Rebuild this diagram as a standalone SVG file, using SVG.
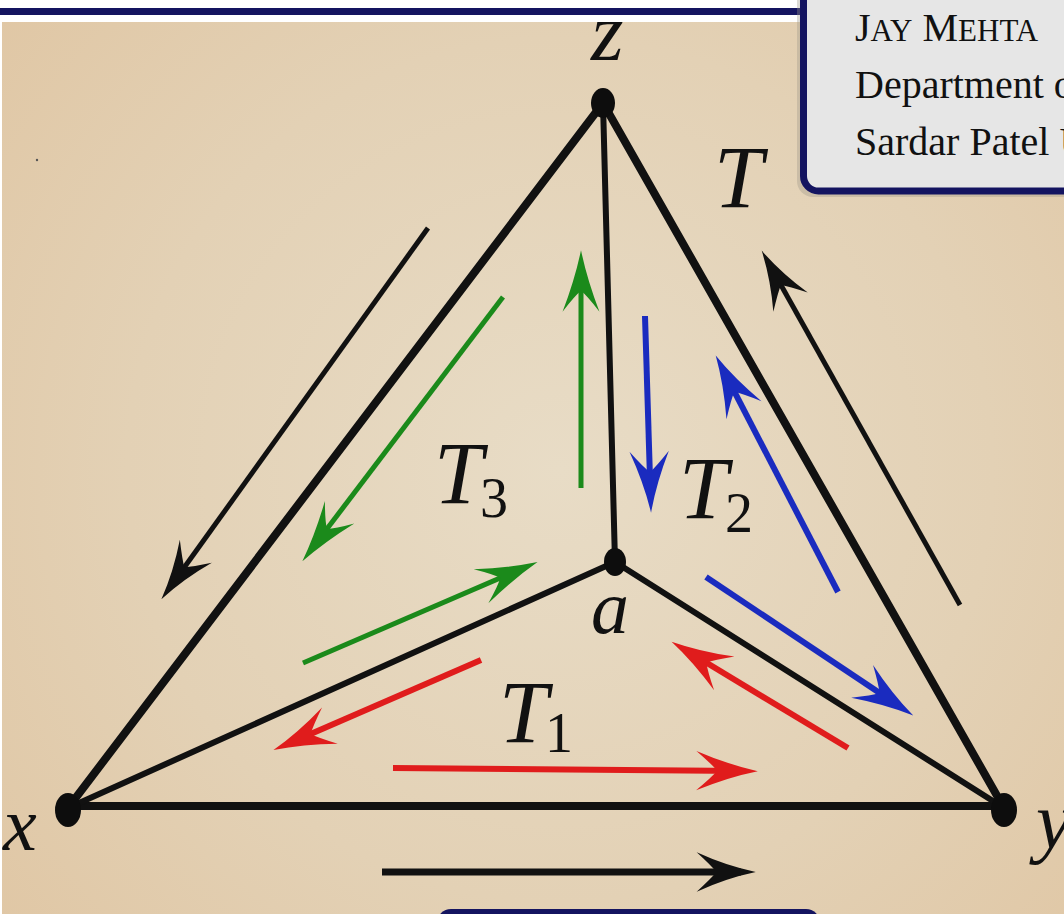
<svg xmlns="http://www.w3.org/2000/svg" width="1064" height="914" viewBox="0 0 1064 914">
<style>
.edge{stroke:#111;fill:none;stroke-linecap:round}
.outer{stroke-width:8}
.inner{stroke-width:6}
.vtx{fill:#0d0d0d}
.math{font-family:"Liberation Serif","DejaVu Serif",serif;font-style:italic;fill:#111}
.arr{fill:none;stroke-linecap:butt}
.k{stroke:#111;stroke-width:5}
.g{stroke:#1b8a1b;stroke-width:5}
.b{stroke:#1a2bbf;stroke-width:6}
.r{stroke:#e01c1c;stroke-width:6}
.box{font-family:"Liberation Serif","Times New Roman",serif;fill:#111}
</style>
<defs>
<radialGradient id="bg" cx="560" cy="470" r="720" gradientUnits="userSpaceOnUse">
<stop offset="0" stop-color="#e8dcc6"/>
<stop offset="0.6" stop-color="#e3d1b5"/>
<stop offset="1" stop-color="#e0c7a5"/>
</radialGradient>
<marker id="hk" markerUnits="userSpaceOnUse" orient="auto" refX="0" refY="0" markerWidth="80" markerHeight="60" viewBox="-45 -20 65 40" overflow="visible">
<path d="M12,0 Q-12,-5 -36,-16 Q-24,-5 -20,0 Q-24,5 -36,16 Q-12,5 12,0 Z" fill="#111"/>
</marker>
<marker id="hg" markerUnits="userSpaceOnUse" orient="auto" refX="0" refY="0" markerWidth="80" markerHeight="60" viewBox="-45 -20 65 40" overflow="visible">
<path d="M12,0 Q-12,-5 -38,-15 Q-25,-5 -21,0 Q-25,5 -38,15 Q-12,5 12,0 Z" fill="#1b8a1b"/>
</marker>
<marker id="hb" markerUnits="userSpaceOnUse" orient="auto" refX="0" refY="0" markerWidth="80" markerHeight="60" viewBox="-45 -20 65 40" overflow="visible">
<path d="M12,0 Q-12,-5 -38,-16 Q-25,-5 -21,0 Q-25,5 -38,16 Q-12,5 12,0 Z" fill="#1a2bbf"/>
</marker>
<marker id="hr" markerUnits="userSpaceOnUse" orient="auto" refX="0" refY="0" markerWidth="80" markerHeight="60" viewBox="-45 -20 65 40" overflow="visible">
<path d="M12,0 Q-12,-5 -38,-16 Q-25,-5 -21,0 Q-25,5 -38,16 Q-12,5 12,0 Z" fill="#e01c1c"/>
</marker>
</defs>

<rect x="0" y="0" width="1064" height="914" fill="#ffffff"/>
<rect x="2" y="22" width="1062" height="892" fill="url(#bg)"/>
<circle cx="37" cy="160" r="1.2" fill="#555"/>

<g id="edges">
<line class="edge outer" x1="68" y1="808" x2="603" y2="103"/>
<line class="edge outer" x1="603" y1="103" x2="1004" y2="808"/>
<line class="edge outer" x1="68" y1="806" x2="1004" y2="806"/>
<line class="edge inner" x1="603" y1="103" x2="615" y2="562"/>
<line class="edge inner" x1="68" y1="808" x2="615" y2="562"/>
<line class="edge inner" x1="615" y1="562" x2="1004" y2="808"/>
</g>

<g id="connectors">
<line class="arr k" x1="428" y1="228" x2="170" y2="587.3" marker-end="url(#hk)"/>
<line class="arr k" x1="960" y1="605" x2="768.9" y2="263.5" marker-end="url(#hk)"/>
<line class="arr k" x1="382" y1="872" x2="741" y2="872" marker-end="url(#hk)" style="stroke-width:7"/>
<line class="arr g" x1="503" y1="297" x2="311.3" y2="549.5" marker-end="url(#hg)"/>
<line class="arr g" x1="581" y1="488" x2="581" y2="265" marker-end="url(#hg)"/>
<line class="arr g" x1="303" y1="663" x2="524" y2="567.8" marker-end="url(#hg)"/>
<line class="arr b" x1="645" y1="316" x2="650.6" y2="498" marker-end="url(#hb)"/>
<line class="arr b" x1="838" y1="592" x2="722.5" y2="368.7" marker-end="url(#hb)"/>
<line class="arr b" x1="706" y1="577" x2="901" y2="707.3" marker-end="url(#hb)"/>
<line class="arr r" x1="481" y1="660" x2="287" y2="744.2" marker-end="url(#hr)"/>
<line class="arr r" x1="848" y1="748" x2="684.2" y2="649.3" marker-end="url(#hr)"/>
<line class="arr r" x1="393" y1="768" x2="743" y2="771" marker-end="url(#hr)"/>
</g>

<g id="node-z">
<ellipse class="vtx" cx="603" cy="103" rx="12" ry="15"/>
<text class="math" x="591" y="60" font-size="84">z</text>
</g>
<g id="node-a">
<ellipse class="vtx" cx="615" cy="562" rx="11" ry="14"/>
<text class="math" x="591" y="633" font-size="76">a</text>
</g>
<g id="node-x">
<ellipse class="vtx" cx="68" cy="810" rx="13" ry="17"/>
<text class="math" x="3" y="850" font-size="76">x</text>
</g>
<g id="node-y">
<ellipse class="vtx" cx="1004" cy="810" rx="13" ry="17"/>
<text class="math" x="1036" y="848" font-size="80">y</text>
</g>

<g id="labels">
<text class="math" x="714" y="207" font-size="88">T</text>
<text class="math" x="434" y="503" font-size="88">T<tspan font-style="normal" font-size="56" dx="-3" dy="14">3</tspan></text>
<text class="math" x="679" y="518" font-size="88">T<tspan font-style="normal" font-size="56" dx="-3" dy="14">2</tspan></text>
<text class="math" x="499" y="742" font-size="88">T<tspan font-style="normal" font-size="56" dx="-3" dy="10">1</tspan></text>
</g>

<g id="header">
<rect x="0" y="0" width="800" height="22" fill="#ffffff"/>
<rect x="0" y="8" width="800" height="7" fill="#141460"/>
</g>

<g id="author-box">
<rect x="797" y="-20" width="290" height="217" rx="16" fill="#9a9486" opacity="0.35"/>
<rect x="803.5" y="-20" width="280" height="211" rx="15" fill="#e6e6e6" stroke="#141460" stroke-width="7"/>
<text class="box" x="855" y="41" font-size="40">J<tspan font-size="31">AY</tspan> M<tspan font-size="31">EHTA</tspan></text>
<text class="box" x="855" y="98" font-size="40">Department of</text>
<text class="box" x="855" y="155" font-size="40">Sardar Patel University</text>
</g>

<g id="bottom-box">
<rect x="437" y="909" width="383" height="40" rx="14" fill="#141460"/>
</g>
</svg>
